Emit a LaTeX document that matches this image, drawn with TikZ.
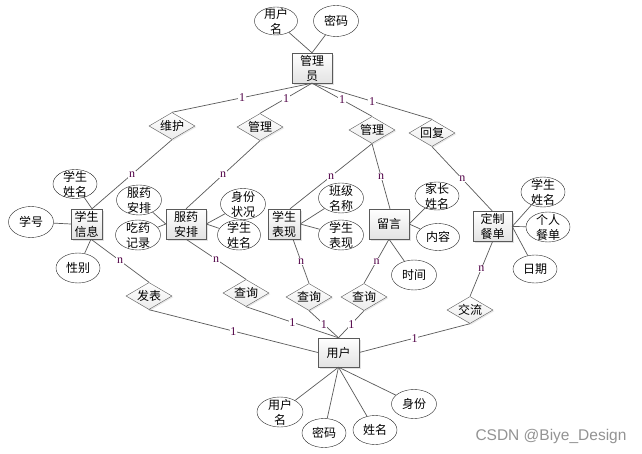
\documentclass[tikz,border=0pt]{standalone}
\usepackage{fontspec}
\setmainfont{Liberation Serif}
\newfontfamily\cjk{Noto Sans CJK SC}
\newfontfamily\wmfont{Liberation Sans}
\usetikzlibrary{shapes.geometric,shadows}
\definecolor{cardc}{RGB}{80,0,70}
\definecolor{linec}{RGB}{90,90,90}
\tikzset{
  ent/.style={draw=linec, rectangle, minimum width=40pt, minimum height=30pt, inner sep=0pt,
    top color=white, bottom color=gray!22,
    drop shadow={shadow xshift=2pt, shadow yshift=-2pt, fill=gray!45},
    font=\cjk\fontsize{12}{15}\selectfont, align=center},
  attr/.style={draw=black!85, ellipse, minimum width=44pt, minimum height=30pt, inner sep=0pt, fill=white},
  ecap/.style={font=\cjk\fontsize{12}{15}\selectfont, align=center, inner sep=0pt},
  rel/.style={draw=linec, diamond, minimum width=46pt, minimum height=27pt, inner sep=0pt,
    top color=white, bottom color=gray!15,
    drop shadow={shadow xshift=1.2pt, shadow yshift=-1.2pt, fill=gray!35}},
  conn/.style={draw=linec, line width=0.7pt},
  card/.style={font=\fontsize{12}{12}\selectfont, text=cardc, fill=white, inner sep=0.6pt, pos=0.5}
}
\begin{document}
\begin{tikzpicture}[x=1pt,y=-1pt]
\useasboundingbox (0,0) rectangle (642,454);
\fill[white] (0,0) rectangle (642,454);

% entities
\node[ent] (adm) at (312,68) {管理\\员};
\node[ent, minimum width=31pt] (xsxx) at (86.5,224) {学生\\信息};
\node[ent] (fyap) at (186,224) {服药\\安排};
\node[ent, minimum width=32pt] (xsbx) at (284,224) {学生\\表现};
\node[ent] (ly) at (389,224) {留言};
\node[ent, minimum width=39pt] (dzcd) at (492.5,226.5) {定制\\餐单};
\node[ent, minimum width=41pt, minimum height=29pt] (yh) at (338.5,352.5) {用户};

% relationships
\node[rel, label={[ecap]center:维护}] (wh) at (172,126) {};
\node[rel, label={[ecap]center:管理}] (gla) at (260,127) {};
\node[rel, label={[ecap]center:管理}] (glb) at (372,130) {};
\node[rel, label={[ecap]center:回复}] (hf) at (432,133) {};
\node[rel, label={[ecap]center:发表}] (fb) at (149,296) {};
\node[rel, label={[ecap]center:查询}] (cxa) at (246,293) {};
\node[rel, label={[ecap]center:查询}] (cxb) at (309,297) {};
\node[rel, label={[ecap]center:查询}] (cxc) at (364,297) {};
\node[rel, label={[ecap]center:交流}] (jl) at (470,310) {};

% attributes
\node[attr, minimum width=43pt, minimum height=28pt, label={[ecap]center:用户\\名}] (aua) at (276,21) {};
\node[attr, minimum width=45pt, minimum height=31pt, label={[ecap]center:密码}] (aub) at (336,21) {};
\node[attr, minimum height=29pt, label={[ecap]center:学生\\姓名}] (xsxm) at (75,184) {};
\node[attr, minimum width=45pt, minimum height=31pt, label={[ecap]center:学号}] (xh) at (31,222) {};
\node[attr, label={[ecap]center:性别}] (xb) at (78,268) {};
\node[attr, minimum width=45pt, label={[ecap]center:服药\\安排}] (fyapa) at (139,200) {};
\node[attr, minimum width=45pt, label={[ecap]center:吃药\\记录}] (cyjl) at (138,235) {};
\node[attr, minimum width=45pt, minimum height=31pt, label={[ecap]center:身份\\状况}] (sfzk) at (243,204) {};
\node[attr, minimum width=43pt, label={[ecap]center:学生\\姓名}] (xsxmb) at (239,235) {};
\node[attr, minimum width=45pt, label={[ecap]center:班级\\名称}] (bjmc) at (341,198) {};
\node[attr, minimum width=45pt, label={[ecap]center:学生\\表现}] (xsbxa) at (341,235) {};
\node[attr, minimum height=28pt, label={[ecap]center:家长\\姓名}] (jzxm) at (437,196) {};
\node[attr, minimum width=43pt, minimum height=27pt, label={[ecap]center:内容}] (nr) at (438,237) {};
\node[attr, minimum width=45pt, label={[ecap]center:时间}] (sj) at (414,275) {};
\node[attr, label={[ecap]center:学生\\姓名}] (xsxmc) at (543,192) {};
\node[attr, label={[ecap]center:个人\\餐单}] (grcd) at (548,227) {};
\node[attr, minimum height=28pt, label={[ecap]center:日期}] (rq) at (535,269) {};
\node[attr, minimum width=46pt, label={[ecap]center:用户\\名}] (bua) at (280,412) {};
\node[attr, minimum height=29pt, label={[ecap]center:密码}] (bub) at (324,433) {};
\node[attr, minimum height=29pt, label={[ecap]center:姓名}] (bxm) at (375,430) {};
\node[attr, minimum width=45pt, minimum height=29pt, label={[ecap]center:身份}] (bsf) at (414,404) {};

% helper points
\coordinate (xsxxT) at ([xshift=5.5pt]xsxx.north);
\coordinate (xsxxB) at ([xshift=4.5pt]xsxx.south);
\coordinate (xsbxT) at ([xshift=6pt]xsbx.north);
\coordinate (xsbxB) at ([xshift=9pt]xsbx.south);

% admin links
\draw[conn] (aua) -- (adm.north);
\draw[conn] (aub) -- (adm.north);
\draw[conn] (adm.south) -- node[card]{1} (wh.north);
\draw[conn] (adm.south) -- node[card]{1} (gla.north);
\draw[conn] (adm.south) -- node[card]{1} (glb.north);
\draw[conn] (adm.south) -- node[card]{1} (hf.north);

\draw[conn] (wh.south) -- node[card]{n} (xsxxT);
\draw[conn] (gla.south) -- node[card]{n} (fyap.north);
\draw[conn] (glb.south) -- node[card]{n} (xsbxT);
\draw[conn] (glb.south) -- node[card]{n} ([xshift=1pt]ly.north);
\draw[conn] (hf.south) -- node[card]{n} (dzcd.north);

\draw[conn] (xsxxB) -- node[card]{n} (fb.north);
\draw[conn] (fyap.south) -- node[card]{n} (cxa.north);
\draw[conn] (xsbxB) -- node[card]{n} (cxb.north);
\draw[conn] (ly.south) -- node[card]{n} (cxc.north);
\draw[conn] (dzcd.south) -- node[card]{n} (jl.north);

\draw[conn] (fb.south) -- node[card]{1} (yh.west);
\draw[conn] (cxa.south) -- node[card]{1} (yh.north);
\draw[conn] (cxb.south) -- node[card]{1} (yh.north);
\draw[conn] (cxc.south) -- node[card]{1} (yh.north);
\draw[conn] (jl.south) -- node[card]{1} (yh.east);

% attribute links
\draw[conn] (xsxm) -- (xsxxT);
\draw[conn] (xh) -- (xsxx.west);
\draw[conn] (xb) -- (xsxxB);
\draw[conn] (fyapa) -- (fyap.west);
\draw[conn] (cyjl) -- (fyap.west);
\draw[conn] (sfzk) -- (fyap.east);
\draw[conn] (xsxmb) -- (fyap.east);
\draw[conn] (bjmc) -- (xsbx.east);
\draw[conn] (xsbxa) -- (xsbx.east);
\draw[conn] (jzxm) -- (ly.east);
\draw[conn] (nr) -- (ly.east);
\draw[conn] (ly.south) -- (sj);
\draw[conn] (xsxmc) -- (dzcd.east);
\draw[conn] (grcd) -- (dzcd.east);
\draw[conn] (rq) -- (dzcd.east);
\draw[conn] (yh.south) -- (bua);
\draw[conn] (yh.south) -- (bub);
\draw[conn] (yh.south) -- (bxm);
\draw[conn] (yh.south) -- (bsf);

\node[font=\wmfont\fontsize{15.5}{16}\selectfont, text=gray!85] (wmk) at (551,436) {CSDN @Biye\_Design};
\end{tikzpicture}
\end{document}
